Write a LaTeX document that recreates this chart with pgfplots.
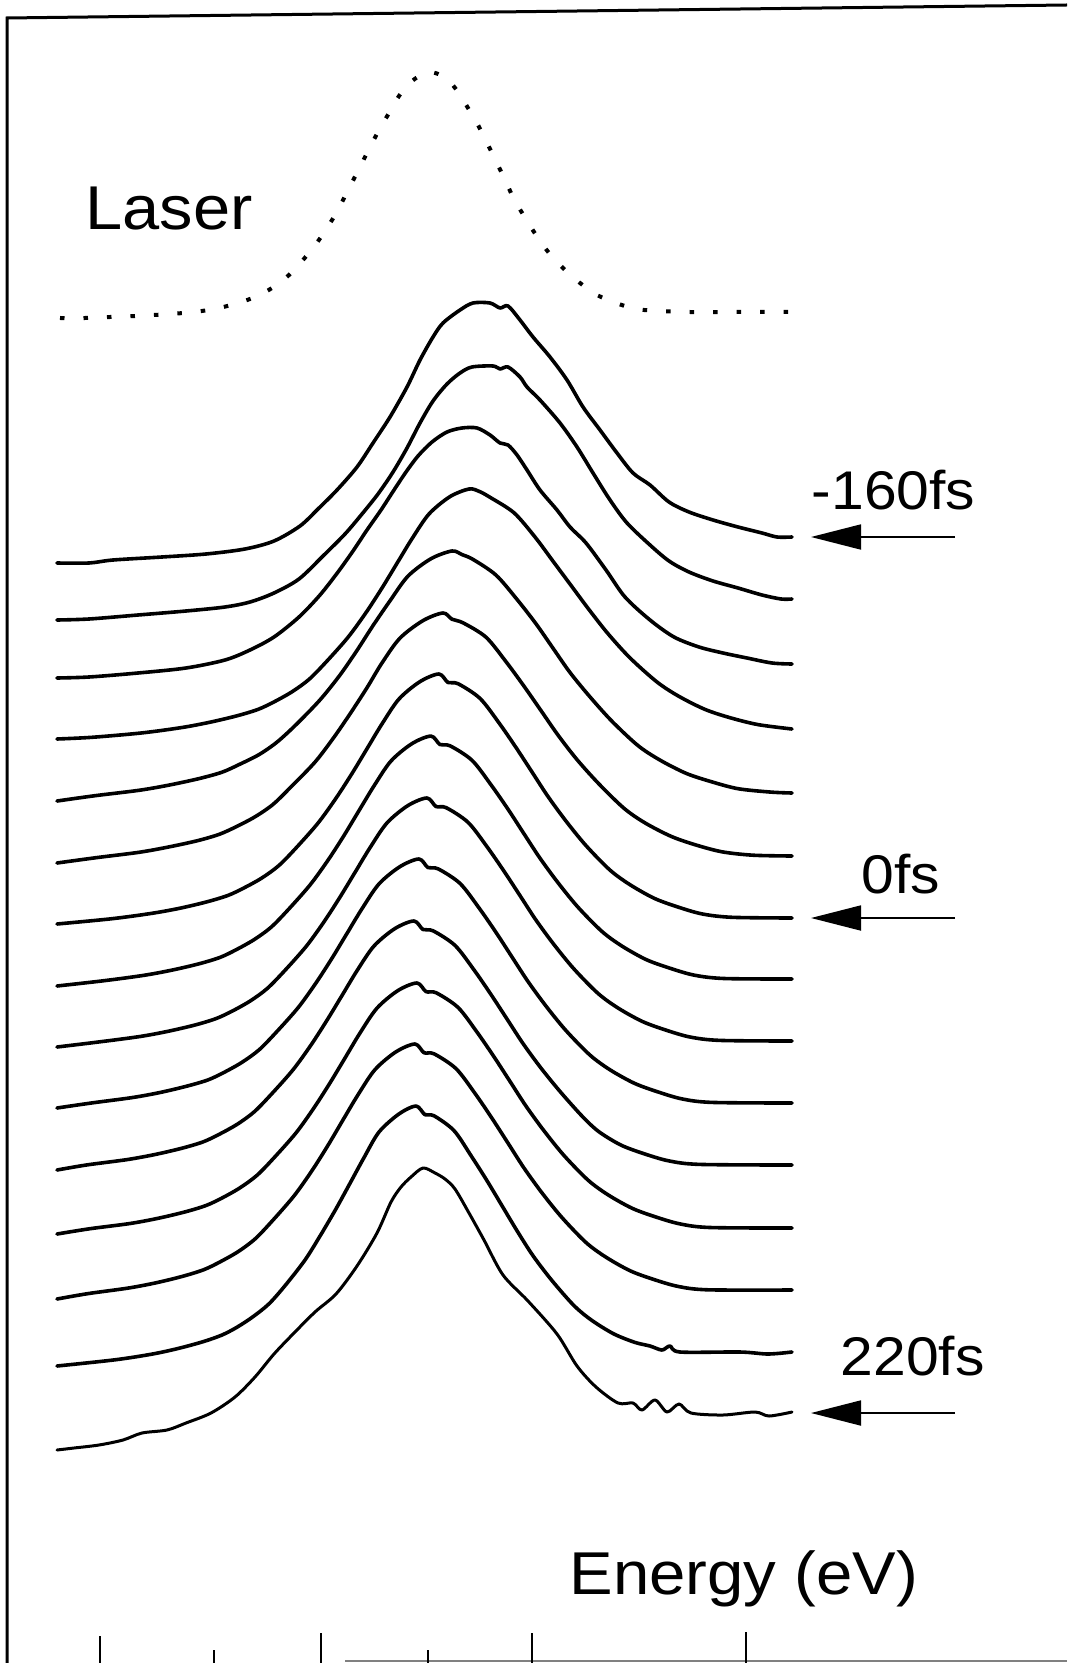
\documentclass[border=0pt]{standalone}
\usepackage{fontspec}
\setmainfont[FakeStretch=1.08]{Liberation Sans}
\usepackage{pgfplots}
\pgfplotsset{compat=1.18}
\usetikzlibrary{arrows.meta}
\begin{document}
\begin{tikzpicture}
\begin{axis}[
  scale only axis, width=10.67cm, height=16.63cm,
  xmin=0, xmax=1067, ymin=0, ymax=1663, y dir=reverse,
  hide axis, clip=false,
  spec/.style={black, solid, line width=0.36mm, line join=round, line cap=round, smooth, tension=0.5, mark=none}
]
% Laser spectrum (dotted)
\addplot[spec, line width=0.4mm, line cap=butt, dash pattern=on 0.45mm off 1.9mm] coordinates {
(60,318) (85,318) (110,317) (136,316) (170,314) (194,312) (214,309) (235,304) (255,297) (272,288) (289,275) (303,260) (316,244) (327,228) (338,210) (348,190) (358,171) (368,151) (378,132) (389,113) (399,96) (412,81) (429,72) (446,78) (458,92) (468,108) (478,125) (487,143) (496,161) (505,180) (514,199) (524,216) (536,235) (549,253) (564,269) (580,283) (597,295) (616,303) (636,309) (660,311) (690,312) (720,312) (750,312) (789,312)};
% c1 (-160 fs)
\addplot[spec] coordinates {
(57,563) (89,563) (113,560) (162,557) (206,554) (245,549) (274,541) (300,526) (318,509) (337,490) (357,467) (373,443) (390,417) (407,387) (420,360) (433,337) (443,323) (460,310) (473,303) (490,303) (500,308) (508,306) (520,320) (533,337) (550,357) (567,380) (583,407) (600,430) (617,453) (633,473) (650,485) (669,502) (689,512) (713,520) (738,527) (762,533) (777,537) (792,537)};
% c2
\addplot[spec] coordinates {
(57,620) (89,619) (138,615) (186,611) (225,607) (250,602) (274,593) (299,579) (323,556) (345,534) (362,514) (378,494) (393,472) (407,448) (420,423) (433,401) (447,384) (460,373) (472,367) (493,366) (500,369) (508,367) (520,377) (527,387) (540,400) (560,423) (577,447) (593,473) (610,500) (627,523) (650,545) (669,561) (689,572) (713,581) (738,588) (762,595) (781,599) (792,599)};
% c3
\addplot[spec] coordinates {
(57,678) (89,677) (138,673) (186,668) (225,660) (250,650) (274,637) (299,617) (320,595) (338,572) (353,551) (367,530) (381,510) (394,490) (406,472) (418,456) (432,442) (447,432) (462,428) (477,428) (490,435) (500,443) (508,445) (517,455) (527,470) (540,490) (557,510) (570,527) (586,543) (606,570) (625,597) (650,620) (674,637) (699,647) (723,653) (747,658) (772,663) (792,664)};
% c4
\addplot[spec] coordinates {
(57,739) (92,737.3) (142,732.9) (182,727.5) (210,722.2) (237,715.8) (258,709.4) (274,701.9) (292,691.8) (309,679.4) (326,662.1) (348,637.3) (366,612.6) (382,588.0) (397,563.3) (412,538.7) (429,514.0) (450,496.6) (469,489.0) (479,491.3) (490,497.3) (514,512.8) (535,537.0) (553,561.2) (571,585.4) (589,609.6) (608,633.7) (630,657.9) (657,682.0) (679,696.4) (705,709.4) (730,717.7) (758,724.6) (792,729)};
% c5
\addplot[spec] coordinates {
(57,801) (95,795.7) (139,790.3) (169,785.1) (199,778.6) (222,772.2) (239,764.6) (259,754.6) (277,742.1) (296,724.7) (320,699.9) (340,675.0) (357,650.4) (373,625.6) (390,600.8) (408,576.1) (431,558.7) (452,551.0) (462,554.6) (473,559.4) (496,575.1) (517,599.4) (536,623.8) (553,648.2) (570,672.5) (590,696.9) (612,721.3) (638,745.6) (660,760.1) (686,773.3) (711,781.6) (738,788.7) (771,792.1) (792,793)};
% c6
\addplot[spec] coordinates {
(57,863) (96,857.7) (139,852.3) (168,847.1) (197,840.8) (219,834.4) (236,826.8) (255,816.8) (273,804.4) (291,786.9) (315,762.1) (334,737.2) (351,712.4) (367,687.7) (382,662.9) (400,638.1) (423,620.6) (443,613.0) (452,619.2) (463,622.8) (486,637.2) (506,661.7) (524,686.2) (541,710.6) (558,735.1) (577,759.6) (599,784.0) (624,808.3) (645,822.9) (671,836.3) (695,844.7) (722,851.8) (753,855.2) (792,856)};
% c7 (0 fs)
\addplot[spec] coordinates {
(57,924) (112,918.7) (152,913.3) (180,908.2) (207,901.8) (228,895.4) (244,887.9) (262,877.9) (279,865.4) (296,848.0) (318,823.1) (336,798.2) (352,773.5) (367,748.7) (382,723.9) (399,699.0) (420,681.6) (439,674.0) (448,682.5) (458,683.7) (480,698.4) (499,722.9) (516,747.5) (532,772.0) (548,796.5) (566,821.1) (586,845.6) (610,870.1) (630,884.7) (654,898.2) (677,906.7) (702,913.9) (732,917.3) (792,918)};
% c8
\addplot[spec] coordinates {
(57,986) (104,980.7) (144,975.3) (172,970.1) (199,963.8) (220,957.4) (236,949.8) (254,939.7) (271,927.3) (288,909.9) (310,885.0) (328,860.2) (344,835.5) (359,810.6) (374,785.9) (391,761.0) (412,743.6) (431,736.1) (440,744.6) (450,745.8) (472,760.3) (491,784.8) (508,809.2) (524,833.8) (540,858.2) (558,882.7) (578,907.2) (602,931.5) (622,946.1) (646,959.5) (669,967.9) (694,975.1) (724,978.5) (792,979)};
% c9
\addplot[spec] coordinates {
(57,1047) (100,1041.8) (140,1036.5) (168,1031.3) (195,1025.0) (216,1018.6) (232,1011.2) (250,1001.1) (267,988.7) (284,971.4) (306,946.6) (324,921.8) (340,897.1) (355,872.4) (370,847.7) (387,822.9) (408,805.5) (427,798.0) (436,806.5) (446,807.6) (468,822.3) (487,846.7) (504,871.2) (520,895.6) (536,920.1) (554,944.6) (574,969.0) (598,993.4) (618,1008.0) (642,1021.3) (665,1029.8) (690,1037.0) (720,1040.4) (792,1041)};
% c10
\addplot[spec] coordinates {
(57,1108) (92,1102.9) (132,1097.6) (160,1092.5) (187,1086.1) (208,1079.9) (224,1072.4) (242,1062.3) (259,1049.9) (276,1032.5) (298,1007.8) (316,982.9) (332,958.2) (347,933.4) (362,908.7) (379,883.9) (400,866.6) (419,859.0) (428,867.6) (438,868.8) (460,883.4) (479,907.9) (496,932.4) (512,957.0) (528,981.5) (546,1006.1) (566,1030.6) (590,1055.1) (610,1069.8) (634,1083.1) (657,1091.6) (682,1098.9) (712,1102.4) (792,1103)};
% c11
\addplot[spec] coordinates {
(57,1170) (87,1164.9) (127,1159.6) (155,1154.5) (182,1148.2) (203,1141.9) (219,1134.4) (237,1124.4) (254,1112.0) (271,1094.6) (293,1069.8) (311,1045.0) (327,1020.2) (342,995.5) (357,970.7) (374,946.0) (395,928.5) (414,921.0) (423,929.5) (433,930.8) (455,945.4) (474,969.9) (491,994.5) (507,1019.0) (523,1043.5) (541,1068.1) (561,1092.6) (583,1117.1) (599,1131.8) (621,1145.1) (644,1153.7) (669,1160.9) (700,1164.4) (792,1165)};
% c12
\addplot[spec] coordinates {
(57,1234) (90,1228.7) (130,1223.5) (158,1218.3) (185,1211.9) (206,1205.5) (222,1198.0) (240,1187.8) (257,1175.3) (274,1157.8) (296,1132.9) (314,1107.8) (330,1082.9) (345,1058.0) (360,1033.0) (377,1008.1) (398,990.5) (417,983.0) (426,991.6) (436,992.7) (458,1007.4) (477,1032.1) (494,1056.8) (510,1081.4) (526,1106.1) (544,1130.8) (564,1155.5) (588,1180.1) (608,1194.8) (632,1208.2) (655,1216.7) (680,1223.9) (710,1227.5) (792,1228)};
% c13
\addplot[spec] coordinates {
(57,1299) (88,1293.6) (128,1288.1) (156,1282.8) (183,1276.2) (204,1269.6) (220,1261.9) (238,1251.7) (255,1239.0) (272,1221.2) (294,1195.9) (312,1170.6) (328,1145.3) (343,1119.9) (358,1094.8) (375,1069.6) (396,1051.8) (415,1044.0) (424,1052.7) (434,1053.8) (456,1068.6) (475,1093.4) (492,1118.3) (508,1143.1) (524,1168.0) (542,1192.9) (562,1217.6) (586,1242.5) (606,1257.2) (630,1270.7) (653,1279.2) (678,1286.4) (708,1289.8) (792,1290)};
% c14
\addplot[spec] coordinates {
(57,1366) (115,1359.8) (152,1354.1) (178,1348.5) (203,1341.7) (222,1335.0) (237,1327.2) (253,1316.7) (269,1303.8) (285,1285.7) (305,1260.0) (321,1234.4) (336,1208.8) (350,1183.3) (364,1157.6) (379,1132.0) (399,1113.9) (416,1106.0) (425,1114.7) (434,1115.8) (454,1130.6) (471,1155.6) (487,1180.7) (502,1205.7) (517,1230.7) (533,1255.7) (552,1280.6) (574,1305.6) (592,1320.5) (614,1334.0) (635,1342.4) (650,1346) (662,1350) (670,1346) (680,1352) (740,1352) (768,1354) (792,1352)};
% c15 (220 fs)
\addplot[spec, line width=0.3mm] coordinates {
(57,1450) (74,1448) (99,1445) (123,1440) (142,1433) (167,1430) (186,1423) (211,1413) (235,1397) (255,1377) (274,1354) (294,1333) (315,1312) (336,1294) (357,1266) (377,1233) (391,1202) (401,1187) (411,1177) (423,1168) (435,1173) (445,1179) (455,1189) (469,1213) (484,1240) (503,1275) (528,1301) (557,1334) (577,1366) (596,1387) (618,1403) (633,1403) (642,1410) (655,1400) (667,1412) (679,1404) (691,1413) (723,1415) (755,1412) (769,1416) (792,1412)};

% frame
\draw[line width=0.3mm] (axis cs:7,1663) -- (axis cs:7,18) -- (axis cs:1067,5);
\draw[line width=0.15mm, gray] (axis cs:345,1661) -- (axis cs:1067,1661);
\draw[line width=0.12mm] (axis cs:100,1636) -- (axis cs:100,1663);
\draw[line width=0.12mm] (axis cs:214,1650) -- (axis cs:214,1663);
\draw[line width=0.12mm] (axis cs:321,1633) -- (axis cs:321,1663);
\draw[line width=0.12mm] (axis cs:428,1650) -- (axis cs:428,1663);
\draw[line width=0.12mm] (axis cs:532,1633) -- (axis cs:532,1663);
\draw[line width=0.12mm] (axis cs:746,1632) -- (axis cs:746,1663);

% labels
\node[anchor=base west, inner sep=0pt, font=\fontsize{17.6}{20}\selectfont] at (axis cs:85,230) {Laser};
\node[anchor=base west, inner sep=0pt, font=\fontsize{15.5}{18}\selectfont] at (axis cs:811,509) {-160fs};
\node[anchor=base west, inner sep=0pt, font=\fontsize{15.5}{18}\selectfont] at (axis cs:861,893) {0fs};
\node[anchor=base west, inner sep=0pt, font=\fontsize{15.5}{18}\selectfont] at (axis cs:840,1375) {220fs};
\node[anchor=base west, inner sep=0pt, font=\fontsize{17.2}{20}\selectfont] at (axis cs:569,1594) {Energy (eV)};

% arrows
\draw[line width=0.18mm, -{Triangle[length=5mm, width=2.5mm]}] (axis cs:955,537) -- (axis cs:811,537);
\draw[line width=0.18mm, -{Triangle[length=5mm, width=2.5mm]}] (axis cs:955,918) -- (axis cs:811,918);
\draw[line width=0.18mm, -{Triangle[length=5mm, width=2.5mm]}] (axis cs:955,1413) -- (axis cs:811,1413);
\end{axis}
\pgfresetboundingbox
\path[use as bounding box] (0,0) rectangle (10.67cm,16.63cm);
\end{tikzpicture}
\end{document}
